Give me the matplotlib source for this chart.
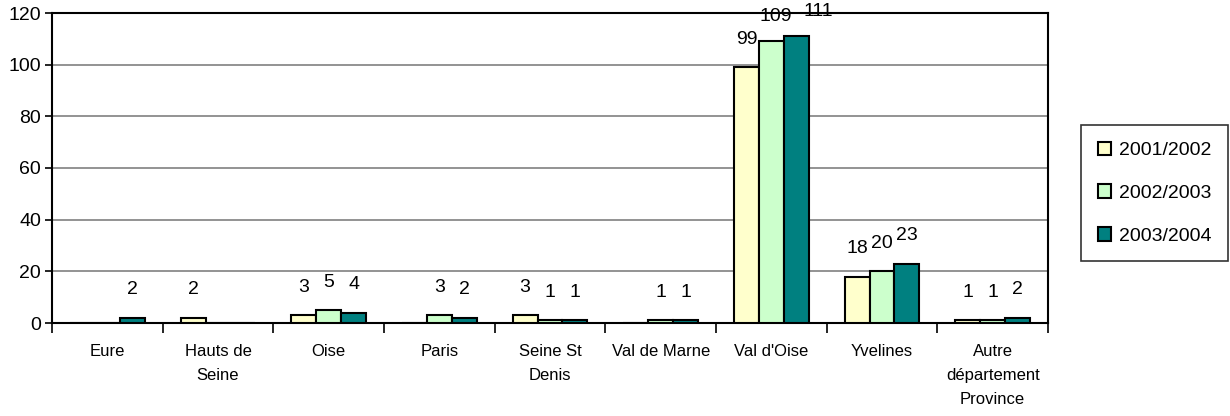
import matplotlib
matplotlib.use("Agg")
import matplotlib.pyplot as plt
import numpy as np

categories = ["Eure", "Hauts de\nSeine", "Oise", "Paris", "Seine St\nDenis",
              "Val de Marne", "Val d'Oise", "Yvelines", "Autre\ndépartement\nProvince"]
series_names = ["2001/2002", "2002/2003", "2003/2004"]
v2001 = [0, 2, 3, 0, 3, 0, 99, 18, 1]
v2002 = [0, 0, 5, 3, 1, 1, 109, 20, 1]
v2003 = [2, 0, 4, 2, 1, 1, 111, 23, 2]
yticks = [0, 20, 40, 60, 80, 100, 120]

colors = ["#FFFFCC", "#CCFFCC", "#008080"]

plt.rcParams['font.family'] = ['Liberation Sans', 'DejaVu Sans']

fig = plt.figure(figsize=(12.3, 4.16), dpi=100)
ax = fig.add_axes([52/1230, 1 - 323/416, 996/1230, 310/416])

# label nudges (points) to avoid overlapping labels, as in the original
nudge = {(1, 6): (3, -2), (2, 6): (16, -2)}

x = np.arange(len(categories))
w = 0.225
for i, (vals, c, name) in enumerate(zip([v2001, v2002, v2003], colors, series_names)):
    pos = x + (i - 1) * w
    ax.bar(pos, vals, width=w, color=c, edgecolor="black", linewidth=1.5,
           label=name, zorder=3)
    for j, (px, v) in enumerate(zip(pos, vals)):
        if v > 0:
            dx, dy = nudge.get((i, j), (0, 0))
            ax.annotate(str(v), (px, v), xytext=(dx, 14 + dy), textcoords="offset points",
                        ha="center", va="bottom", fontsize=14, clip_on=False,
                        zorder=5)

ax.set_xlim(-0.5, len(categories) - 0.5)
ax.set_ylim(0, 120)
ax.set_yticks(yticks)
ax.set_yticklabels([str(t) for t in yticks], fontsize=14)
ax.yaxis.grid(True, color="#808080", linewidth=1.2, zorder=0)
ax.set_axisbelow(True)

ax.set_xticks(x)
ax.set_xticklabels(categories, fontsize=12, linespacing=1.75, va="top")
ax.tick_params(axis="x", length=0, pad=15)
ax.set_xticks(np.arange(len(categories) + 1) - 0.5, minor=True)
ax.tick_params(axis="x", which="minor", length=7, width=1.2, direction="out")
ax.tick_params(axis="y", length=5, width=1.2, direction="out", pad=3)

for s in ["left", "bottom", "top", "right"]:
    ax.spines[s].set_linewidth(1.5)
    ax.spines[s].set_color("black")

leg = fig.legend(loc="upper left", bbox_to_anchor=(1081/1230, 1 - 125/416),
                 fontsize=14, frameon=True, fancybox=False, edgecolor="black",
                 handlelength=0.7, handleheight=0.7, handletextpad=0.4,
                 labelspacing=1.3, borderpad=0.85, borderaxespad=0)
leg.get_frame().set_linewidth(1.2)

fig.savefig("out.png", dpi=100, facecolor="white")
